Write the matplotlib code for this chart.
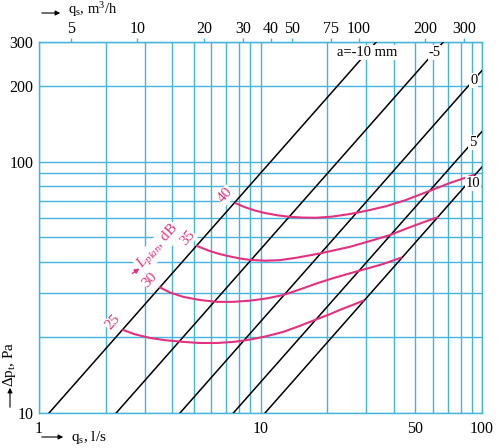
import matplotlib
matplotlib.use("Agg")
import matplotlib.pyplot as plt
from matplotlib.ticker import FixedLocator, NullLocator, NullFormatter, FixedFormatter

plt.rcParams['font.family'] = ['Liberation Serif', 'DejaVu Serif']
plt.rcParams['mathtext.fontset'] = 'custom'
plt.rcParams['mathtext.rm'] = 'Liberation Serif'
plt.rcParams['mathtext.it'] = 'Liberation Serif:italic'
plt.rcParams['mathtext.default'] = 'regular'

grid_col = "#45b4dc"
pink = "#e3317f"

# damper setting lines a (mm): two end points each, q in l/s, dp in Pa
a_labels = ["a=-10 mm", "-5", "0", "5", "10"]
line_q = [[1.11, 33.3], [2.23, 66.9], [4.33, 100], [7.54, 100], [10.48, 100]]
line_dp = [[10, 300], [10, 300], [10, 231], [10, 132], [10, 95.4]]
# where the a-labels sit on each line
label_q = [30.3, 61.0, 92.0, 91.0, 91.0]
label_dp = [273, 273, 211, 119, 82]

# sound level curves (dB)
levels = [40, 35, 30, 25]
curve_q = [
    [7.73, 8.5, 9.5, 10.5, 12.0, 13.6, 15.5, 17.9, 21.0, 25.4, 30.0, 37.0, 45.0, 58.2, 72.0, 91.4],
    [5.18, 5.8, 6.5, 7.28, 8.1, 8.97, 10.5, 12.2, 14.5, 18.6, 25.4, 32.3, 38.4, 45.0, 53.0, 62.8],
    [3.52, 3.9, 4.48, 5.3, 6.34, 7.5, 8.97, 10.7, 12.67, 15.0, 17.94, 21.0, 25.4, 30.0, 35.8, 43.0],
    [2.40, 2.7, 3.17, 3.7, 4.47, 5.3, 6.36, 7.6, 8.97, 10.6, 12.6, 15.0, 17.9, 20.5, 23.0, 26.0, 29.1],
]
curve_dp = [
    [68.4, 66.0, 63.9, 62.5, 61.2, 60.4, 60.0, 59.9, 60.5, 62.0, 63.8, 66.6, 70.3, 76.7, 82.5, 88.6],
    [46.2, 44.4, 43.0, 42.0, 41.2, 40.7, 40.4, 40.6, 41.5, 43.2, 45.9, 48.8, 51.1, 54.0, 57.0, 60.1],
    [31.6, 30.2, 29.0, 28.2, 27.7, 27.7, 28.0, 28.6, 29.5, 31.0, 32.8, 34.3, 36.0, 37.5, 39.2, 41.5],
    [21.4, 20.6, 19.9, 19.5, 19.2, 19.0, 19.0, 19.2, 19.6, 20.2, 21.0, 22.2, 23.6, 24.7, 25.8, 26.9, 28.0],
]

bottom_ticks = [1, 10, 50, 100]
left_ticks = [10, 100, 200, 300]
top_ticks = [5, 10, 20, 30, 40, 50, 75, 100, 200, 300]

fig = plt.figure(figsize=(5, 4.48), dpi=100)
ax = fig.add_axes([39 / 500, 35 / 448, 443 / 500, 371 / 448])
ax.set_xscale("log")
ax.set_yscale("log")
ax.set_xlim(1, 100)
ax.set_ylim(10, 300)

ax.grid(True, which="both", color=grid_col, linewidth=1.0)
for s in ax.spines.values():
    s.set_color(grid_col)
    s.set_linewidth(1.0)

ax.xaxis.set_major_locator(FixedLocator(bottom_ticks))
ax.xaxis.set_minor_locator(FixedLocator([2, 3, 4, 5, 6, 7, 8, 9, 20, 30, 40, 50, 60, 70, 80, 90]))
ax.xaxis.set_major_formatter(FixedFormatter([str(t) for t in bottom_ticks]))
ax.xaxis.set_minor_formatter(NullFormatter())
ax.yaxis.set_major_locator(FixedLocator(left_ticks))
ax.yaxis.set_minor_locator(FixedLocator([20, 30, 40, 50, 60, 70, 80, 90]))
ax.yaxis.set_major_formatter(FixedFormatter([str(t) for t in left_ticks]))
ax.yaxis.set_minor_formatter(NullFormatter())
ax.tick_params(which="both", length=0, labelsize=11.5)
ax.tick_params(axis="x", pad=6)
ax.tick_params(axis="y", pad=4)

for q, dp in zip(line_q, line_dp):
    ax.plot(q, dp, color="black", linewidth=1.1, zorder=3)

for txt, q, dp in zip(a_labels, label_q, label_dp):
    ax.text(q, dp, txt, fontsize=10.5, ha="center", va="center", zorder=5,
            bbox=dict(facecolor="white", edgecolor="none", pad=0.6))

for lev, q, dp in zip(levels, curve_q, curve_dp):
    ax.plot(q, dp, color=pink, linewidth=1.5, zorder=4)
    ax.annotate(str(lev), xy=(q[0], dp[0]), xytext=(-10, 8), textcoords="offset pixels",
                color=pink, fontsize=11, rotation=48, ha="center", va="center", zorder=5,
                bbox=dict(facecolor="white", edgecolor="none", pad=0.5))

ax.annotate("", xy=(2.91, 38.2), xytext=(2.58, 35.4),
            arrowprops=dict(arrowstyle="-|>", color=pink, lw=1.0, mutation_scale=7))
ax.text(3.45, 45.8, r"$\mathit{L_{plan}}$, dB", color=pink, fontsize=11, rotation=48,
        ha="center", va="center", zorder=5,
        bbox=dict(facecolor="white", edgecolor="none", pad=0.5))

sec = ax.secondary_xaxis("top", functions=(lambda x: x * 3.6, lambda x: x / 3.6))
sec.xaxis.set_major_locator(FixedLocator(top_ticks))
sec.xaxis.set_minor_locator(NullLocator())
sec.xaxis.set_major_formatter(FixedFormatter([str(t) for t in top_ticks]))
sec.tick_params(length=3, width=1.0, color=grid_col, labelsize=11.5, pad=0.5)
sec.spines["top"].set_color(grid_col)

# axis titles with arrows
fig.text(68 / 500, 1 - 10 / 448, r"q$_s$, m$^3$/h", fontsize=10.5, ha="left", va="center")
fig.text(71 / 500, 1 - 437 / 448, r"q$_s$, l/s", fontsize=11, ha="left", va="center")
fig.text(10 / 500, 1 - 364 / 448, r"Δp$_t$, Pa", fontsize=11, ha="center", va="center",
         rotation=90)
arr = dict(arrowstyle="-|>", color="black", lw=0.8, mutation_scale=7)
fig.add_artist(matplotlib.patches.FancyArrowPatch((39 / 500, 1 - 13 / 448), (63 / 500, 1 - 13 / 448),
                                                  transform=fig.transFigure, **arr))
fig.add_artist(matplotlib.patches.FancyArrowPatch((39 / 500, 1 - 437 / 448), (66 / 500, 1 - 437 / 448),
                                                  transform=fig.transFigure, **arr))
fig.add_artist(matplotlib.patches.FancyArrowPatch((10 / 500, 1 - 410 / 448), (10 / 500, 1 - 385 / 448),
                                                  transform=fig.transFigure, **arr))

fig.savefig("out.png", dpi=100)
